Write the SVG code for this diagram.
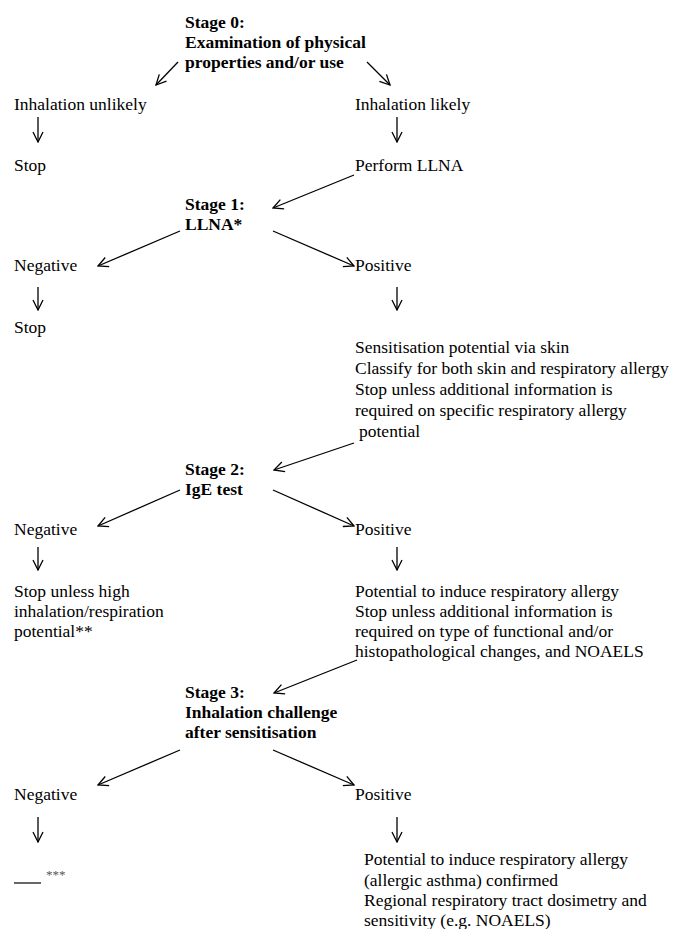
<svg xmlns="http://www.w3.org/2000/svg" width="673" height="929" viewBox="0 0 673 929">
<style>
text{font-family:"Liberation Serif","Times New Roman",serif;font-size:17.5px;fill:#000}
.b{font-weight:bold}
.c line{stroke:#000;stroke-width:1.3;marker-end:url(#ah)}
.ast{font-size:13px;fill:#555}
</style>
<defs>
<marker id="ah" viewBox="0 0 12 12" refX="11" refY="6" markerWidth="12" markerHeight="12" markerUnits="userSpaceOnUse" orient="auto">
<path d="M1,1 L11,6 L1,11" fill="none" stroke="#000" stroke-width="1.3"/>
</marker>
</defs>
<rect width="673" height="929" fill="#fff"/>
<g id="stage0"><text class="b" x="185" y="28">Stage 0:</text><text class="b" x="185" y="48">Examination of physical</text><text class="b" x="185" y="68">properties and/or use</text></g>
<g id="inh-unlikely"><text x="14" y="110">Inhalation unlikely</text></g>
<g id="inh-likely"><text x="355" y="110">Inhalation likely</text></g>
<g id="stop1"><text x="14" y="171">Stop</text></g>
<g id="perform-llna"><text x="355" y="171">Perform LLNA</text></g>
<g id="stage1"><text class="b" x="185" y="210">Stage 1:</text><text class="b" x="185" y="230">LLNA*</text></g>
<g id="neg1"><text x="14" y="271">Negative</text></g>
<g id="pos1"><text x="355" y="271">Positive</text></g>
<g id="stop2"><text x="14" y="333">Stop</text></g>
<g id="sens"><text x="355" y="353">Sensitisation potential via skin</text><text x="355" y="374">Classify for both skin and respiratory allergy</text><text x="355" y="395">Stop unless additional information is</text><text x="355" y="416">required on specific respiratory allergy</text><text x="359" y="437">potential</text></g>
<g id="stage2"><text class="b" x="185" y="475">Stage 2:</text><text class="b" x="185" y="495">IgE test</text></g>
<g id="neg2"><text x="14" y="535">Negative</text></g>
<g id="pos2"><text x="355" y="535">Positive</text></g>
<g id="stop3"><text x="14" y="597">Stop unless high</text><text x="14" y="617">inhalation/respiration</text><text x="14" y="637">potential**</text></g>
<g id="pot2"><text x="355" y="597">Potential to induce respiratory allergy</text><text x="355" y="617">Stop unless additional information is</text><text x="355" y="637">required on type of functional and/or</text><text x="355" y="657">histopathological changes, and NOAELS</text></g>
<g id="stage3"><text class="b" x="185" y="698">Stage 3:</text><text class="b" x="185" y="718">Inhalation challenge</text><text class="b" x="185" y="738">after sensitisation</text></g>
<g id="neg3"><text x="14" y="800">Negative</text></g>
<g id="pos3"><text x="355" y="800">Positive</text></g>
<g id="blank"><line x1="14" y1="883" x2="41" y2="883" stroke="#000" stroke-width="1.2"/><text class="ast" x="46" y="879">***</text></g>
<g id="confirmed"><text x="364" y="865">Potential to induce respiratory allergy</text><text x="364" y="886">(allergic asthma) confirmed</text><text x="364" y="906">Regional respiratory tract dosimetry and</text><text x="364" y="926">sensitivity (e.g. NOAELS)</text></g>
<g id="connectors" class="c">
<line x1="178" y1="62" x2="156" y2="85"/>
<line x1="367" y1="62" x2="390" y2="85"/>
<line x1="38" y1="117" x2="38" y2="142"/>
<line x1="397" y1="117" x2="397" y2="142"/>
<line x1="354" y1="175" x2="273" y2="208"/>
<line x1="180" y1="231" x2="98" y2="266"/>
<line x1="273" y1="231" x2="354" y2="266"/>
<line x1="38" y1="287" x2="38" y2="310"/>
<line x1="397" y1="287" x2="397" y2="310"/>
<line x1="354" y1="443" x2="274" y2="470"/>
<line x1="180" y1="490" x2="98" y2="526"/>
<line x1="273" y1="490" x2="354" y2="526"/>
<line x1="38" y1="547" x2="38" y2="570"/>
<line x1="397" y1="547" x2="397" y2="570"/>
<line x1="357" y1="660" x2="274" y2="693"/>
<line x1="180" y1="750" x2="98" y2="785"/>
<line x1="273" y1="750" x2="354" y2="785"/>
<line x1="38" y1="817" x2="38" y2="842"/>
<line x1="397" y1="817" x2="397" y2="842"/>
</g>
</svg>
